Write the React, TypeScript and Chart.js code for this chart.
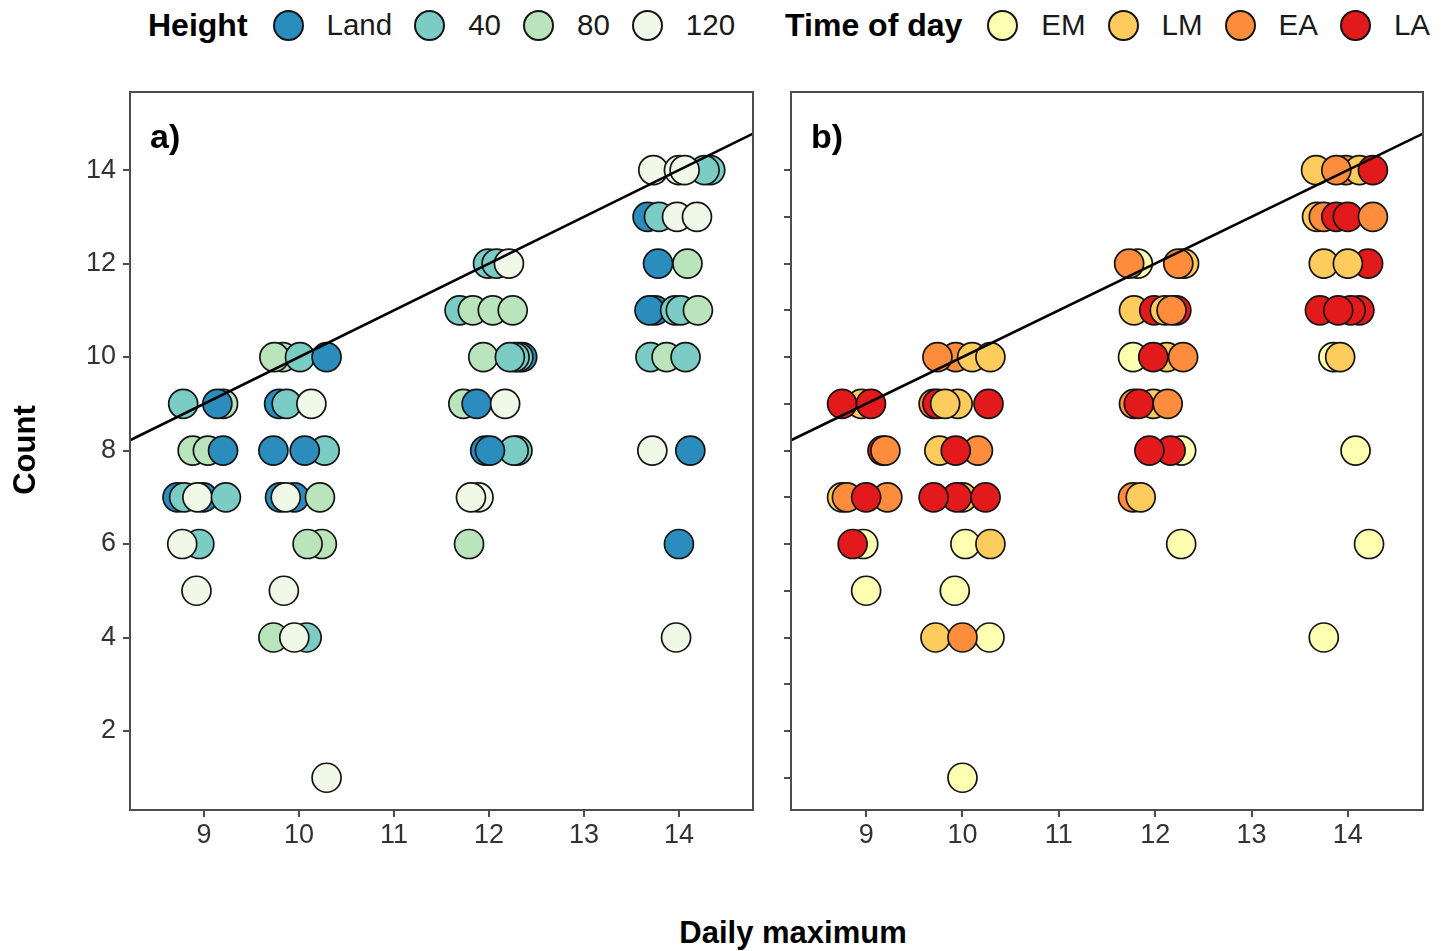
import React, { useEffect, useRef } from "react";
import { Chart, registerables } from "chart.js";
Chart.register(...registerables);

const FONT = "'Liberation Sans', Arial, Helvetica, sans-serif";

// ---------- legend levels & palettes ----------
const heightLevels = ["Land", "40", "80", "120"];
const heightColors = ["#2B8CBE", "#7BCCC4", "#BAE4BC", "#F0F9E8"];
const timeLevels = ["EM", "LM", "EA", "LA"];
const timeColors = ["#FFFFB2", "#FECC5C", "#FD8D3C", "#E31A1C"];

// ---------- axes ----------
const xTickValues = [9, 10, 11, 12, 13, 14];
const yTickValuesA = [2, 4, 6, 8, 10, 12, 14];
const yTickValuesB = [1, 2, 3, 4, 5, 6, 7, 8, 9, 10, 11, 12, 13, 14];
const xLimits = [8.22, 14.78];
const yLimits = [0.31, 15.67];

// ---------- fitted line (1:1) ----------
const fitIntercept = 0;
const fitSlope = 1;

// ---------- panel a: jittered daily maximum vs count, by height ----------
const aX = [
  8.78, 9.2, 9.14,
  8.88, 9.04, 9.2,
  8.72, 8.79, 8.99, 8.93, 9.23,
  8.95, 8.77,
  8.92,
  9.83, 9.74, 10.01, 10.29,
  9.79, 9.87, 10.13,
  9.73, 10.27, 10.06,
  9.8, 9.95, 9.86, 10.22,
  10.24, 10.09,
  9.84,
  9.73, 10.08, 9.95,
  10.29,
  11.99, 12.08, 12.21,
  11.69, 11.83, 12.04, 12.25,
  11.94, 12.35, 12.31, 12.27, 12.22,
  11.73, 11.87, 12.17,
  11.96, 12.3, 12.26, 12.01,
  11.89, 11.81,
  11.79,
  13.73, 14.33, 14.27, 14.0, 14.06,
  13.67, 13.79, 13.98, 14.19,
  13.78, 14.09,
  13.75, 13.69, 13.96, 14.02, 14.2,
  13.7, 13.87, 14.07,
  13.72, 14.12,
  14.0,
  13.97,
];
const aY = [
  9, 9, 9,
  8, 8, 8,
  7, 7, 7, 7, 7,
  6, 6,
  5,
  10, 10, 10, 10,
  9, 9, 9,
  8, 8, 8,
  7, 7, 7, 7,
  6, 6,
  5,
  4, 4, 4,
  1,
  12, 12, 12,
  11, 11, 11, 11,
  10, 10, 10, 10, 10,
  9, 9, 9,
  8, 8, 8, 8,
  7, 7,
  6,
  14, 14, 14, 14, 14,
  13, 13, 13, 13,
  12, 12,
  11, 11, 11, 11, 11,
  10, 10, 10,
  8, 8,
  6,
  4,
];
const aHeight = [
  "40", "80", "Land",
  "80", "80", "Land",
  "Land", "40", "Land", "120", "40",
  "40", "120",
  "120",
  "80", "80", "40", "Land",
  "Land", "40", "120",
  "Land", "40", "Land",
  "Land", "Land", "120", "80",
  "80", "80",
  "120",
  "80", "40", "120",
  "120",
  "40", "40", "120",
  "40", "80", "80", "80",
  "80", "Land", "40", "40", "40",
  "80", "Land", "120",
  "Land", "40", "40", "Land",
  "120", "120",
  "80",
  "120", "40", "40", "120", "120",
  "Land", "40", "120", "120",
  "Land", "80",
  "Land", "Land", "40", "40", "80",
  "40", "80", "40",
  "120", "Land",
  "Land",
  "120",
];

// ---------- panel b: jittered daily maximum vs count, by time of day ----------
const bX = [
  8.95, 8.75, 9.05,
  9.17, 9.2,
  8.75, 8.8, 9.22, 9.0,
  8.97, 8.86,
  9.0,
  9.93, 10.1, 9.74, 10.29,
  9.7, 9.74, 9.95, 9.82, 10.27,
  9.76, 10.16, 9.93,
  10.0, 9.94, 9.7, 10.24,
  10.03, 10.29,
  9.92,
  9.72, 10.28, 10.0,
  10.0,
  11.82, 11.73, 12.3, 12.24,
  11.78, 11.99, 12.1, 12.22, 12.17,
  11.77, 12.12, 11.98, 12.29,
  11.78, 11.98, 11.83, 12.13,
  12.27, 12.16, 11.94,
  11.77, 11.85,
  12.27,
  13.67, 13.98, 14.12, 13.88, 14.26,
  13.68, 13.75, 13.88, 14.0, 14.26,
  13.75, 14.21, 14.0,
  13.71, 14.12, 14.03, 13.9,
  13.85, 13.92,
  14.08,
  14.22,
  13.75,
];
const bY = [
  9, 9, 9,
  8, 8,
  7, 7, 7, 7,
  6, 6,
  5,
  10, 10, 10, 10,
  9, 9, 9, 9, 9,
  8, 8, 8,
  7, 7, 7, 7,
  6, 6,
  5,
  4, 4, 4,
  1,
  12, 12, 12, 12,
  11, 11, 11, 11, 11,
  10, 10, 10, 10,
  9, 9, 9, 9,
  8, 8, 8,
  7, 7,
  6,
  14, 14, 14, 14, 14,
  13, 13, 13, 13, 13,
  12, 12, 12,
  11, 11, 11, 11,
  10, 10,
  8,
  6,
  4,
];
const bTime = [
  "LM", "LA", "LA",
  "LA", "EA",
  "LM", "EA", "EA", "LA",
  "EM", "LA",
  "EM",
  "EA", "LM", "EA", "LM",
  "EA", "LA", "LM", "LM", "LA",
  "LM", "EA", "LA",
  "LM", "LA", "LA", "LA",
  "EM", "LM",
  "EM",
  "LM", "EM", "EA",
  "EM",
  "EM", "EA", "LM", "EA",
  "LM", "LA", "LM", "LA", "EA",
  "EM", "LM", "LA", "EA",
  "EA", "LM", "LA", "EA",
  "EM", "LA", "LA",
  "EA", "LM",
  "EM",
  "LM", "EA", "LM", "EA", "LA",
  "LM", "EA", "LA", "LA", "EA",
  "LM", "LA", "LM",
  "LA", "LA", "LA", "LA",
  "EM", "LM",
  "EM",
  "EM",
  "EM",
];

// ---------- panel component ----------
type PanelProps = {
  xs: number[];
  ys: number[];
  groups: string[];
  levels: string[];
  colors: string[];
  yTicks: number[];
  showYLabels: boolean;
  label: string;
  left: number;
  width: number;
  yAxisWidth: number;
  padRight: number;
};

const TOP = 60;
const CANVAS_H = 830;

function Panel(p: PanelProps) {
  const ref = useRef<HTMLCanvasElement | null>(null);
  useEffect(() => {
    if (!ref.current) return;
    const pts = p.xs.map((x, i) => ({ x, y: p.ys[i] }));
    const fills = p.groups.map((g) => p.colors[p.levels.indexOf(g)]);
    const linePts = xLimits.map((x) => ({ x, y: fitIntercept + fitSlope * x }));

    const framePlugin = {
      id: "frame" + p.label,
      afterDraw(chart: any) {
        const { ctx, chartArea } = chart;
        ctx.save();
        ctx.strokeStyle = "#4d4d4d";
        ctx.lineWidth = 2;
        ctx.strokeRect(chartArea.left, chartArea.top, chartArea.right - chartArea.left, chartArea.bottom - chartArea.top);
        ctx.fillStyle = "#000";
        ctx.font = `bold 34px ${FONT}`;
        ctx.textBaseline = "middle";
        ctx.textAlign = "left";
        ctx.fillText(p.label, chartArea.left + 20, chartArea.top + 47);
        ctx.restore();
      },
    };

    const tickFont = { family: FONT, size: 27 };
    const chart = new Chart(ref.current, {
      type: "scatter",
      data: {
        datasets: [
          {
            type: "line",
            data: linePts,
            borderColor: "#000",
            borderWidth: 2.6,
            pointRadius: 0,
            fill: false,
            tension: 0,
          } as any,
          {
            type: "scatter",
            data: pts,
            pointRadius: 14.5,
            pointHoverRadius: 14.5,
            pointBackgroundColor: fills,
            pointBorderColor: "#141414",
            pointBorderWidth: 1.7,
            pointHoverBorderWidth: 1.7,
          } as any,
        ],
      },
      options: {
        animation: false,
        responsive: false,
        events: [],
        layout: { autoPadding: false, padding: { top: 92 - TOP, right: p.padRight, bottom: 0, left: 0 } },
        plugins: { legend: { display: false }, tooltip: { enabled: false } },
        scales: {
          x: {
            type: "linear",
            min: xLimits[0],
            max: xLimits[1],
            afterBuildTicks: (s: any) => {
              s.ticks = xTickValues.map((v) => ({ value: v }));
            },
            afterFit: (s: any) => {
              s.height = CANVAS_H - (810 - TOP);
              s.paddingLeft = 0;
              s.paddingRight = 0;
            },
            border: { display: false },
            grid: { drawOnChartArea: false, drawTicks: true, tickLength: 7, color: "#4d4d4d", lineWidth: 2 },
            ticks: { autoSkip: false, maxRotation: 0, padding: 2, color: "#333", font: tickFont },
          },
          y: {
            type: "linear",
            min: yLimits[0],
            max: yLimits[1],
            afterBuildTicks: (s: any) => {
              s.ticks = p.yTicks.map((v) => ({ value: v }));
            },
            afterFit: (s: any) => {
              s.width = p.yAxisWidth;
              s.paddingTop = 0;
              s.paddingBottom = 0;
            },
            border: { display: false },
            grid: { drawOnChartArea: false, drawTicks: true, tickLength: 7, color: "#4d4d4d", lineWidth: 2 },
            ticks: {
              autoSkip: false,
              padding: 7,
              color: "#333",
              font: tickFont,
              callback: (v: any) => (p.showYLabels ? String(v) : ""),
            },
          },
        },
      },
      plugins: [framePlugin],
    });
    return () => chart.destroy();
  }, []);
  return (
    <canvas
      ref={ref}
      width={p.width}
      height={CANVAS_H}
      style={{ position: "absolute", left: p.left, top: TOP, width: p.width, height: CANVAS_H }}
    />
  );
}

function LegendKey({ color }: { color: string }) {
  return (
    <span
      style={{
        display: "inline-block",
        width: 27,
        height: 27,
        borderRadius: "50%",
        border: "2px solid #141414",
        background: color,
        flex: "0 0 auto",
      }}
    />
  );
}

function LegendGroup({ title, levels, colors }: { title: string; levels: string[]; colors: string[] }) {
  return (
    <div style={{ display: "flex", alignItems: "center" }}>
      <span style={{ fontWeight: "bold", fontSize: 32, marginRight: 25 }}>{title}</span>
      {levels.map((l, i) => (
        <div key={l} style={{ display: "flex", alignItems: "center", marginRight: i < levels.length - 1 ? 22 : 0 }}>
          <LegendKey color={colors[i]} />
          <span style={{ fontSize: 29.5, marginLeft: 23, color: "#1a1a1a" }}>{l}</span>
        </div>
      ))}
    </div>
  );
}

export default function App() {
  return (
    <div
      style={{
        position: "absolute",
        left: 0,
        top: 0,
        width: 1446,
        height: 951,
        background: "#fff",
        fontFamily: FONT,
        overflow: "hidden",
      }}
    >
      <div style={{ position: "absolute", left: 148, top: 6, height: 38, display: "flex", alignItems: "center" }}>
        <LegendGroup title="Height" levels={heightLevels} colors={heightColors} />
        <div style={{ width: 50 }} />
        <LegendGroup title="Time of day" levels={timeLevels} colors={timeColors} />
      </div>

      <Panel
        xs={aX}
        ys={aY}
        groups={aHeight}
        levels={heightLevels}
        colors={heightColors}
        yTicks={yTickValuesA}
        showYLabels={true}
        label="a)"
        left={0}
        width={760}
        yAxisWidth={130}
        padRight={7}
      />
      <Panel
        xs={bX}
        ys={bY}
        groups={bTime}
        levels={timeLevels}
        colors={timeColors}
        yTicks={yTickValuesB}
        showYLabels={false}
        label="b)"
        left={760}
        width={686}
        yAxisWidth={31}
        padRight={23}
      />

      <div
        style={{
          position: "absolute",
          left: 593,
          width: 400,
          top: 913,
          textAlign: "center",
          fontWeight: "bold",
          fontSize: 31,
          lineHeight: "40px",
        }}
      >
        Daily maximum
      </div>
      <div
        style={{
          position: "absolute",
          left: 25 - 100,
          top: 450 - 20,
          width: 200,
          height: 40,
          lineHeight: "40px",
          textAlign: "center",
          fontWeight: "bold",
          fontSize: 31,
          transform: "rotate(-90deg)",
        }}
      >
        Count
      </div>
    </div>
  );
}
